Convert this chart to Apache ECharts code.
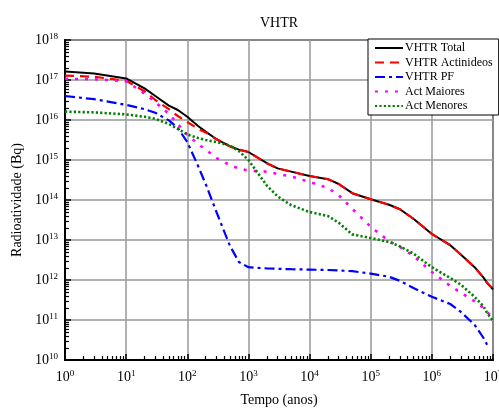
<!DOCTYPE html>
<html><head><meta charset="utf-8">
<script src="https://cdn.jsdelivr.net/npm/echarts@6/dist/echarts.min.js"></script>
<style>html,body{margin:0;padding:0;background:#fff}#c{width:499px;height:410px}</style>
</head><body><div id="c"></div>
<script>
// Time (years)
const years = [1, 3, 10, 20, 30, 50, 70, 100, 150, 200, 300, 500, 700, 1e3, 2e3, 3e3, 5e3, 1e4, 2e4, 3e4, 5e4, 1e5, 2e5, 3e5, 5e5, 1e6, 2e6, 3e6, 5e6, 7e6, 8e6, 1e7];
// log10 of activity (Bq)
const totalLog  = [17.21,17.16,17.04,16.79,16.60,16.36,16.25,16.08,15.85,15.71,15.52,15.34,15.26,15.20,14.92,14.79,14.71,14.60,14.52,14.40,14.17,14.02,13.88,13.77,13.53,13.15,12.87,12.63,12.32,12.06,11.93,11.77];
const actinLog  = [17.11,17.08,16.98,16.72,16.50,16.27,16.10,15.95,15.78,15.69,15.52,15.34,15.26,15.20,14.92,14.79,14.71,14.60,14.52,14.40,14.17,14.02,13.88,13.77,13.53,13.15,12.87,12.63,12.32,12.06,11.93,11.77];
const pfLog     = [16.60,16.52,16.38,16.27,16.18,15.99,15.80,15.45,14.85,14.40,13.70,12.85,12.45,12.32,12.29,12.28,12.27,12.26,12.25,12.24,12.22,12.16,12.08,11.98,11.80,11.58,11.40,11.20,10.88,10.55,10.38,null];
const maiorLog  = [17.03,17.02,16.97,16.66,16.45,16.15,15.90,15.63,15.40,15.26,15.05,14.87,14.79,14.73,14.71,14.65,14.59,14.45,14.30,14.12,13.78,13.33,12.97,12.83,12.60,12.20,11.85,11.68,11.47,11.30,11.20,11.05];
const menorLog  = [16.21,16.19,16.14,16.08,16.03,15.90,15.78,15.64,15.55,15.50,15.45,15.36,15.22,15.00,14.36,14.09,13.87,13.70,13.60,13.43,13.14,13.05,12.95,12.84,12.66,12.32,12.05,11.88,11.58,11.34,11.18,10.98];
const seriesNames = ['VHTR Total','VHTR Actinideos','VHTR PF','Act Maiores','Act Menores'];
const xMin = 1, xMax = 1e7, yMin = 1e10, yMax = 1e18;

const F = 'Liberation Serif, Times New Roman, serif';
function pairs(logs){ return years.map((t,i)=> logs[i]==null ? [t,null] : [t, Math.pow(10, logs[i])]); }
function minorVals(a,b){ const r=[]; for(let k=a;k<b;k++){ for(let m=2;m<=9;m++) r.push(m*Math.pow(10,k)); } return r; }
function supFmt(v){ return '{b|10}{s|' + Math.round(Math.log10(v)) + '}'; }
const rich = { b:{fontFamily:F,fontSize:14,color:'#000',lineHeight:16}, s:{fontFamily:F,fontSize:9,color:'#000',verticalAlign:'top',lineHeight:9, padding:[0,0,6,0]} };

const chart = echarts.init(document.getElementById('c'), null, {renderer:'canvas'});
const mk = (name, logs, color, type, width) => ({
  name, type:'line', data: pairs(logs), xAxisIndex:0, yAxisIndex:0, symbol:'none', showSymbol:false,
  lineStyle:{color, type, width, cap:'butt'}, itemStyle:{color}, connectNulls:false, animation:false, z: 3
});
chart.setOption({
  animation:false,
  backgroundColor:'#fff',
  graphic:[{type:'text', x:279, y:16, style:{text:'VHTR', font:'14px '+F, fill:'#000', textAlign:'center'}}],
  legend:{
    orient:'vertical', left:368, top:39, width:120,
    backgroundColor:'#fff', borderColor:'#000', borderWidth:1, borderRadius:0,
    padding:[3,6,3,6], itemGap:2.5, itemWidth:28, itemHeight:12,
    itemStyle:{opacity:0},
    textStyle:{fontFamily:F, fontSize:12, color:'#000', padding:[0,0,0,-3]},
    data: seriesNames
  },
  grid:{left:65, top:40, right:6, bottom:50, show:true, borderColor:'#555', borderWidth:2, containLabel:false, outerBoundsMode:'none'},
  xAxis:[{
    type:'log', logBase:10, min:xMin, max:xMax,
    name:'Tempo (anos)', nameLocation:'middle', nameGap:33,
    nameTextStyle:{fontFamily:F, fontSize:14, color:'#000'},
    axisLine:{show:true, lineStyle:{color:'#000', width:2}},
    axisTick:{show:true, inside:true, length:6, lineStyle:{color:'#000', width:1.5}},
    axisLabel:{formatter:supFmt, rich, margin:9},
    splitLine:{show:true, lineStyle:{color:'#999', width:1.5}},
    minorTick:{show:false}, minorSplitLine:{show:false}
  },{
    type:'log', logBase:10, min:xMin, max:xMax, gridIndex:0, position:'bottom',
    axisLine:{show:false}, axisLabel:{show:false}, splitLine:{show:false},
    axisTick:{show:true, inside:true, length:4, customValues: minorVals(0,7), lineStyle:{color:'#000', width:1.2}}
  }],
  yAxis:[{
    type:'log', logBase:10, min:yMin, max:yMax,
    name:'Radioatividade (Bq)', nameLocation:'middle', nameGap:32, nameRotate:90,
    nameTextStyle:{fontFamily:F, fontSize:14, color:'#000'},
    axisLine:{show:true, lineStyle:{color:'#000', width:2}},
    axisTick:{show:true, inside:true, length:6, lineStyle:{color:'#000', width:1.5}},
    axisLabel:{formatter:supFmt, rich, margin:7},
    splitLine:{show:true, lineStyle:{color:'#999', width:1.5}}
  },{
    type:'log', logBase:10, min:yMin, max:yMax, gridIndex:0, position:'left',
    axisLine:{show:false}, axisLabel:{show:false}, splitLine:{show:false},
    axisTick:{show:true, inside:true, length:4, customValues: minorVals(10,18), lineStyle:{color:'#000', width:1.2}}
  }],
  series:[
    mk(seriesNames[0], totalLog, '#000000', 'solid', 2),
    mk(seriesNames[1], actinLog, '#ff0000', [9,6], 2.2),
    mk(seriesNames[2], pfLog, '#0000ff', [10,4,3,4], 2.2),
    mk(seriesNames[3], maiorLog, '#ff00ff', [3,7], 2.6),
    mk(seriesNames[4], menorLog, '#008000', [2.2,2.2], 2.6)
  ]
});
</script></body></html>
